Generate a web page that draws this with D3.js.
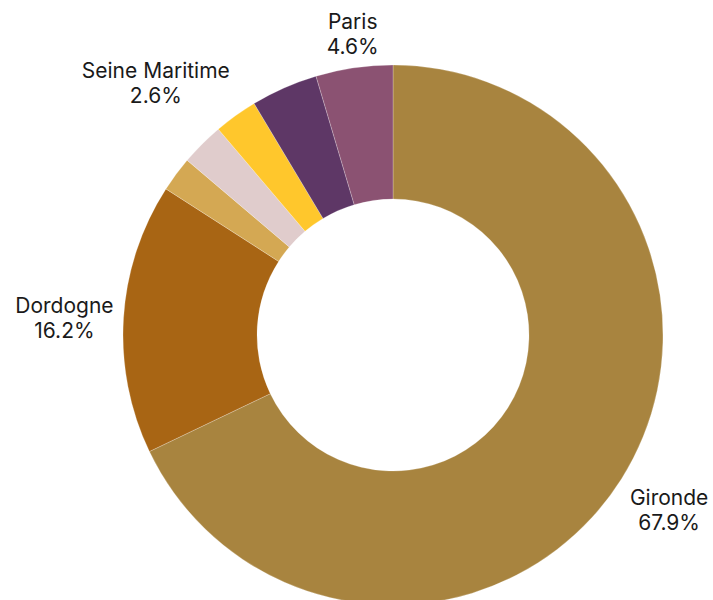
<!DOCTYPE html>
<html><head><meta charset="utf-8">
<script src="https://cdn.jsdelivr.net/npm/d3@7"></script>
<style>body{margin:0;background:#fff;}svg{display:block;}</style>
</head><body>
<svg id="chart" width="713" height="600"></svg>
<script>
const categories = ["Gironde","Dordogne","Autre 1","Autre 2","Seine Maritime","Autre 3","Paris"];
const values = [67.9, 16.2, 2.1, 2.6, 2.6, 4.0, 4.6];
const colors = ["#A8843F","#A86514","#D4A853","#E0CCCC","#FFC72C","#5E3766","#8B5272"];
const labelled = [true, true, false, false, true, false, true];

const svg = d3.select("#chart");
const cx = 393, cy = 335, outerR = 270, innerR = 136, labelR = 280;
const g = svg.append("g").attr("transform", `translate(${cx},${cy})`);

const data = categories.map((c,i)=>({name:c, value:values[i], color:colors[i], show:labelled[i]}));
const pie = d3.pie().value(d=>d.value).sort(null);
const arc = d3.arc().innerRadius(innerR).outerRadius(outerR);
const arcs = pie(data);

g.selectAll("path").data(arcs).join("path")
  .attr("d", arc).attr("fill", d=>d.data.color)
  .attr("stroke", "#fff").attr("stroke-width", 0.4).attr("stroke-opacity", 0.6);

const fs = 21, lh = 25, base = 21, blockH = lh*2;
arcs.filter(d=>d.data.show).forEach(d=>{
  const a = (d.startAngle + d.endAngle)/2;
  const s = Math.sin(a), c = Math.cos(a);
  const px = s*labelR, py = -c*labelR;
  const t = g.append("text").attr("text-anchor", "middle")
    .attr("font-family", "Inter, 'Noto Sans', sans-serif").attr("font-size", fs).attr("fill", "#1a1a1a");
  const l1 = t.append("tspan").attr("x", 0).text(d.data.name);
  const l2 = t.append("tspan").attr("x", 0).text(d3.format(".1f")(d.data.value) + "%");
  const w = Math.max(l1.node().getComputedTextLength(), l2.node().getComputedTextLength());
  let xc;
  if (Math.abs(s) < 0.3) xc = px; else xc = px + Math.sign(s)*w/2;
  let top;
  if (c > 0.3) top = py - blockH; else if (c < -0.3) top = py; else top = py - blockH/2;
  l1.attr("x", xc).attr("y", top + base);
  l2.attr("x", xc).attr("y", top + base + lh);
});
</script>
</body></html>
